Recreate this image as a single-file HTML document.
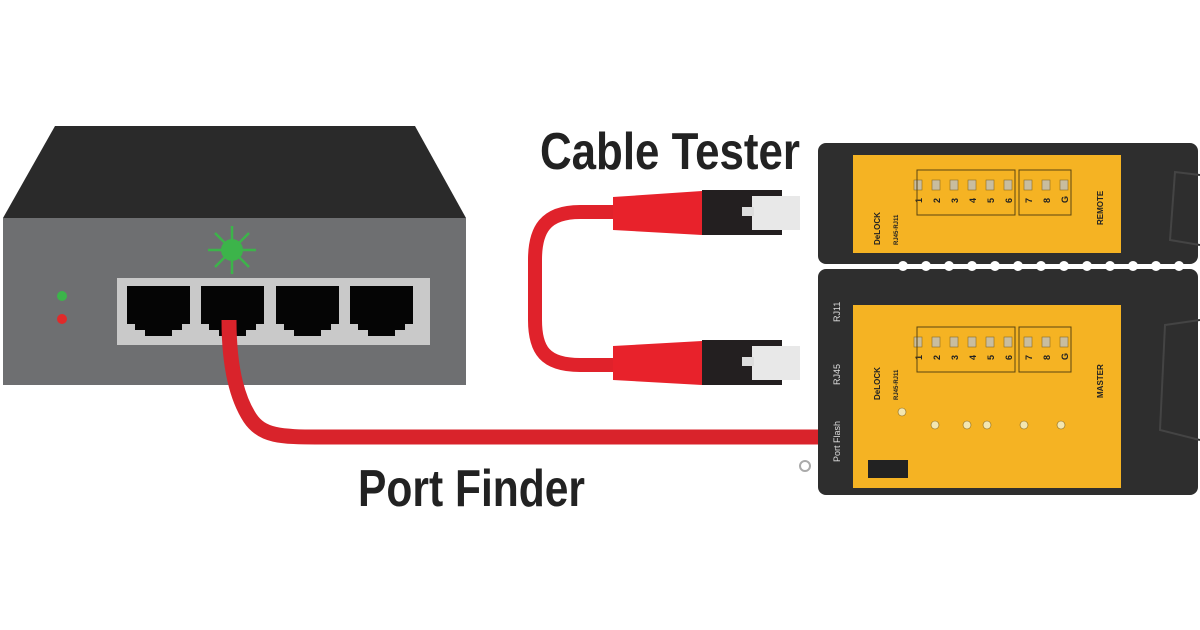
<!DOCTYPE html>
<html><head><meta charset="utf-8"><style>
html,body{margin:0;padding:0;background:#fff;width:1200px;height:630px;overflow:hidden}
</style></head><body>
<svg width="1200" height="630" viewBox="0 0 1200 630" xmlns="http://www.w3.org/2000/svg">
<rect width="1200" height="630" fill="#fff"/>
<!-- switch -->
<polygon points="55,126 415,126 466,218 3,218" fill="#2a2a2a"/>
<rect x="3" y="218" width="463" height="167" fill="#6e6f71"/>
<rect x="117" y="278" width="313" height="67" fill="#c9c9c9"/>
<g fill="#050505">
<path d="M127,286h63v38h-8v6h-10v6h-27v-6h-10v-6h-8z"/>
<path d="M201,286h63v38h-8v6h-10v6h-27v-6h-10v-6h-8z"/>
<path d="M276,286h63v38h-8v6h-10v6h-27v-6h-10v-6h-8z"/>
<path d="M350,286h63v38h-8v6h-10v6h-27v-6h-10v-6h-8z"/>
</g>
<circle cx="62" cy="296" r="5" fill="#3cb44a"/>
<circle cx="62" cy="319" r="5" fill="#e02a2a"/>
<g stroke="#3cb44a" stroke-width="2.5">
<line x1="232" y1="226" x2="232" y2="274"/><line x1="208" y1="250" x2="256" y2="250"/>
<line x1="215" y1="233" x2="249" y2="267"/><line x1="249" y1="233" x2="215" y2="267"/>
</g>
<circle cx="232" cy="250" r="11" fill="#3cb44a"/>
<!-- port finder cable -->
<path d="M229,320 C229,360 235,395 250,418 C262,436 280,437 320,437 L820,437" fill="none" stroke="#d9232b" stroke-width="15"/>
<!-- patch cable loop -->
<path d="M615,212 L580,212 C545,212 535,230 535,260 L535,320 C535,350 545,365 580,365 L615,365" fill="none" stroke="#e0222b" stroke-width="14"/>
<g>
<polygon points="613,197 702,191 702,235 613,230" fill="#e8222b"/>
<rect x="702" y="190" width="80" height="45" fill="#231f20"/>
<rect x="752" y="196" width="48" height="34" fill="#e8e8e8"/>
<rect x="742" y="207" width="12" height="9" fill="#ddd"/>
<polygon points="613,346 702,341 702,385 613,380" fill="#e8222b"/>
<rect x="702" y="340" width="80" height="45" fill="#231f20"/>
<rect x="752" y="346" width="48" height="34" fill="#e8e8e8"/>
<rect x="742" y="357" width="12" height="9" fill="#ddd"/>
</g>
<!-- tester -->
<rect x="818" y="143" width="380" height="121" rx="8" fill="#2e2e2e"/>
<rect x="818" y="269" width="380" height="226" rx="8" fill="#2e2e2e"/>
<g fill="#fff">
<circle cx="903" cy="266" r="5"/><circle cx="926" cy="266" r="5"/><circle cx="949" cy="266" r="5"/><circle cx="972" cy="266" r="5"/><circle cx="995" cy="266" r="5"/><circle cx="1018" cy="266" r="5"/><circle cx="1041" cy="266" r="5"/><circle cx="1064" cy="266" r="5"/><circle cx="1087" cy="266" r="5"/><circle cx="1110" cy="266" r="5"/><circle cx="1133" cy="266" r="5"/><circle cx="1156" cy="266" r="5"/><circle cx="1179" cy="266" r="5"/>
</g>
<rect x="853" y="155" width="268" height="98" fill="#f5b323"/>
<rect x="853" y="305" width="268" height="183" fill="#f5b323"/>
<path d="M1200,175 L1175,172 L1170,240 L1200,245" fill="none" stroke="#444" stroke-width="2"/>
<path d="M1200,320 L1165,325 L1160,430 L1200,440" fill="none" stroke="#444" stroke-width="2"/>
<g font-family="Liberation Sans, sans-serif" font-weight="bold" fill="#222" font-size="8">
<text transform="translate(880,245) rotate(-90)">DeLOCK</text>
<text transform="translate(880,400) rotate(-90)">DeLOCK</text>
<text transform="translate(1103,225) rotate(-90)">REMOTE</text>
<text transform="translate(1103,398) rotate(-90)">MASTER</text>
<text transform="translate(898,245) rotate(-90)" font-size="6">RJ45-RJ11</text>
<text transform="translate(898,400) rotate(-90)" font-size="6">RJ45-RJ11</text>
</g>
<g font-family="Liberation Sans, sans-serif" font-weight="bold" fill="#222" font-size="9">
<text transform="translate(922,203) rotate(-90)">1</text><text transform="translate(940,203) rotate(-90)">2</text><text transform="translate(958,203) rotate(-90)">3</text><text transform="translate(976,203) rotate(-90)">4</text><text transform="translate(994,203) rotate(-90)">5</text><text transform="translate(1012,203) rotate(-90)">6</text><text transform="translate(1032,203) rotate(-90)">7</text><text transform="translate(1050,203) rotate(-90)">8</text><text transform="translate(1068,203) rotate(-90)">G</text>
<text transform="translate(922,360) rotate(-90)">1</text><text transform="translate(940,360) rotate(-90)">2</text><text transform="translate(958,360) rotate(-90)">3</text><text transform="translate(976,360) rotate(-90)">4</text><text transform="translate(994,360) rotate(-90)">5</text><text transform="translate(1012,360) rotate(-90)">6</text><text transform="translate(1032,360) rotate(-90)">7</text><text transform="translate(1050,360) rotate(-90)">8</text><text transform="translate(1068,360) rotate(-90)">G</text>
</g>
<g fill="#f3e6b0" stroke="#8a6a20" stroke-width="0.6">
<circle cx="935" cy="425" r="4"/><circle cx="967" cy="425" r="4"/><circle cx="987" cy="425" r="4"/><circle cx="1024" cy="425" r="4"/><circle cx="1061" cy="425" r="4"/><circle cx="902" cy="412" r="4"/>
</g>
<g font-family="Liberation Sans, sans-serif" fill="#ddd" font-size="9">
<text transform="translate(840,462) rotate(-90)">Port Flash</text>
<text transform="translate(840,385) rotate(-90)">RJ45</text>
<text transform="translate(840,322) rotate(-90)">RJ11</text>
</g>
<g fill="#c8bda0" stroke="#8a6a20" stroke-width="0.6">
<rect x="914" y="180" width="8" height="10"/><rect x="932" y="180" width="8" height="10"/><rect x="950" y="180" width="8" height="10"/><rect x="968" y="180" width="8" height="10"/><rect x="986" y="180" width="8" height="10"/><rect x="1004" y="180" width="8" height="10"/><rect x="1024" y="180" width="8" height="10"/><rect x="1042" y="180" width="8" height="10"/><rect x="1060" y="180" width="8" height="10"/>
<rect x="914" y="337" width="8" height="10"/><rect x="932" y="337" width="8" height="10"/><rect x="950" y="337" width="8" height="10"/><rect x="968" y="337" width="8" height="10"/><rect x="986" y="337" width="8" height="10"/><rect x="1004" y="337" width="8" height="10"/><rect x="1024" y="337" width="8" height="10"/><rect x="1042" y="337" width="8" height="10"/><rect x="1060" y="337" width="8" height="10"/>
</g>
<g fill="none" stroke="#5a4410" stroke-width="1">
<rect x="917" y="170" width="98" height="45"/><rect x="1019" y="170" width="52" height="45"/>
<rect x="917" y="327" width="98" height="45"/><rect x="1019" y="327" width="52" height="45"/>
</g>
<rect x="868" y="460" width="40" height="18" fill="#222"/>
<circle cx="805" cy="466" r="5" fill="none" stroke="#aaa" stroke-width="2"/>
<!-- labels -->
<g font-family="Liberation Sans Narrow, Liberation Sans, sans-serif" font-weight="bold" fill="#222" font-size="52">
<text x="540" y="169" textLength="260" lengthAdjust="spacingAndGlyphs">Cable Tester</text>
<text x="358" y="506" textLength="227" lengthAdjust="spacingAndGlyphs">Port Finder</text>
</g>
</svg>
</body></html>
